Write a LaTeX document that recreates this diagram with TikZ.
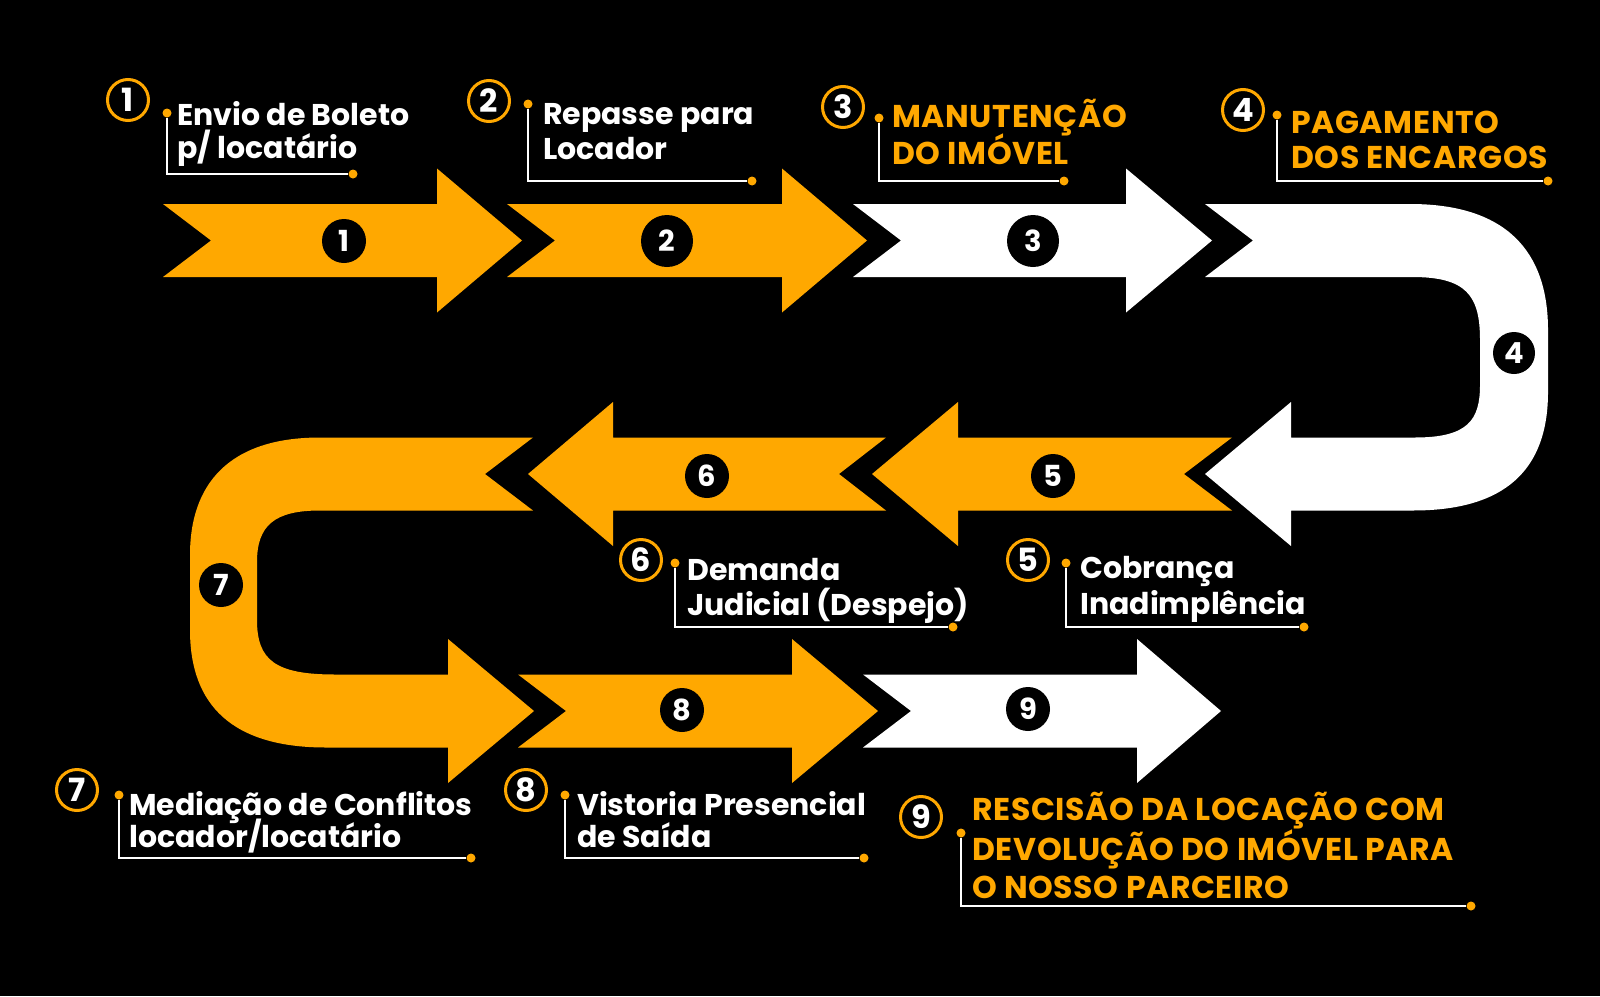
\documentclass[tikz,border=0pt]{standalone}
\usepackage{fontspec}
\setmainfont{Poppins}
\newfontfamily\capsfont{Poppins}[LetterSpace=2]
\definecolor{org}{HTML}{FFA800}
\begin{document}
\begin{tikzpicture}[x=1pt,y=-1pt,
  lw/.style={anchor=base west, inner sep=0pt, text=white, font=\bfseries\fontsize{30}{30}\selectfont},
  lo/.style={anchor=base west, inner sep=0pt, text=org, font=\capsfont\bfseries\fontsize{31.5}{31.5}\selectfont},
  ring/.style={circle, draw=org, line width=3pt, minimum size=41pt, inner sep=0pt, text=white, font=\bfseries\fontsize{32}{32}\selectfont},
  num/.style={circle, fill=black, minimum size=44pt, inner sep=0pt, text=white, font=\bfseries\fontsize{29}{29}\selectfont},
  bignum/.style={num, minimum size=52pt},
  dotn/.style={circle, fill=org, minimum size=9pt, inner sep=0pt},
  leader/.style={draw=white, line width=2.5pt},
  shw/.style={fill=white},
  sho/.style={fill=org}]
\fill[black] (0,0) rectangle (1600,996);
\useasboundingbox (0,0) rectangle (1600,996);

% top row arrows (center y = 240.5)
\fill[sho] (163,204) -- (437,204) -- (437,168.5) -- (522,240.5) -- (437,312.5) -- (437,277) -- (163,277) -- (211,240.5) -- cycle;
\fill[sho] (507,204) -- (782,204) -- (782,168.5) -- (867,240.5) -- (782,312.5) -- (782,277) -- (507,277) -- (555,240.5) -- cycle;
\fill[shw] (853,204) -- (1126,204) -- (1126,168.5) -- (1212,240.5) -- (1126,312.5) -- (1126,277) -- (853,277) -- (901,240.5) -- cycle;
% U-turn 4
\fill[shw] (1205,204) -- (1410,204) .. controls (1505,204) and (1548,250) .. (1548,330)
  -- (1548,392) .. controls (1548,470) and (1505,510.5) .. (1413,510.5)
  -- (1291,510.5) -- (1291,546) -- (1205,474) -- (1291,402) -- (1291,437.5)
  -- (1415,437.5) .. controls (1468,437.5) and (1480,420) .. (1480,385)
  -- (1480,340) .. controls (1480,295) and (1466,277) .. (1412,277)
  -- (1205,277) -- (1253,240.5) -- cycle;
% middle row (center y = 474)
\fill[sho] (1232,437.5) -- (958,437.5) -- (958,402) -- (872,474) -- (958,546) -- (958,510.5) -- (1232,510.5) -- (1184,474) -- cycle;
\fill[sho] (886,437.5) -- (613,437.5) -- (613,402) -- (528,474) -- (613,546) -- (613,510.5) -- (886,510.5) -- (839,474) -- cycle;
% U-turn 7
\fill[sho] (533,437.5) -- (320,437.5) .. controls (228,437.5) and (190,485) .. (190,555)
  -- (190,630) .. controls (190,705) and (232,747.5) .. (326,747.5)
  -- (448,747.5) -- (448,783) -- (534,711) -- (448,639) -- (448,674.5)
  -- (335,674.5) .. controls (275,674.5) and (257,660) .. (257,620)
  -- (257,562) .. controls (257,525) and (275,510.5) .. (320,510.5)
  -- (533,510.5) -- (485,474) -- cycle;
% bottom row (center y = 711)
\fill[sho] (518,674.5) -- (792,674.5) -- (792,639) -- (878,711) -- (792,783) -- (792,747.5) -- (518,747.5) -- (566,711) -- cycle;
\fill[shw] (863,674.5) -- (1137,674.5) -- (1137,639) -- (1221,711) -- (1137,783) -- (1137,747.5) -- (863,747.5) -- (911,711) -- cycle;

% numbers on arrows
\node[num] (n1) at (344,241) {1};
\node[bignum] (n2) at (667,241) {2};
\node[bignum] (n3) at (1033,241) {3};
\node[num, minimum size=42pt] (n4) at (1514,353) {4};
\node[num] (n5) at (1053,476) {5};
\node[num] (n6) at (707,476) {6};
\node[num] (n7) at (221,585) {7};
\node[num] (n8) at (682,710) {8};
\node[num] (n9) at (1028,709) {9};

% rings
\node[ring] (r1) at (128,100) {1};
\node[ring] (r2) at (489,101) {2};
\node[ring] (r3) at (843,107) {3};
\node[ring] (r4) at (1243,110) {4};
\node[ring] (r5) at (1028,560) {5};
\node[ring] (r6) at (641,560) {6};
\node[ring] (r7) at (77,790) {7};
\node[ring] (r8) at (526,790) {8};
\node[ring] (r9) at (921,817) {9};

% leaders
\node[dotn] (d1a) at (167,113) {};  \node[dotn] (d1b) at (353,174) {};
\node[dotn] (d2a) at (528,104) {};  \node[dotn] (d2b) at (752,181) {};
\node[dotn] (d3a) at (879,118) {};  \node[dotn] (d3b) at (1064,181) {};
\node[dotn] (d4a) at (1277,115) {}; \node[dotn] (d4b) at (1548,181) {};
\node[dotn] (d5a) at (1066,563) {}; \node[dotn] (d5b) at (1304,627) {};
\node[dotn] (d6a) at (675,563) {};  \node[dotn] (d6b) at (953,627) {};
\node[dotn] (d7a) at (119,795) {};  \node[dotn] (d7b) at (471,858) {};
\node[dotn] (d8a) at (565,795) {};  \node[dotn] (d8b) at (864,858) {};
\node[dotn] (d9a) at (961,833) {};  \node[dotn] (d9b) at (1471,906) {};
\foreach \i in {1,...,9} {\draw[leader] (d\i a) |- (d\i b);}

% texts
\node[lw] (t1a) at (177,125) {Envio de Boleto};
\node[lw] (t1b) at (177,158) {p/ locatário};
\node[lw] (t2a) at (543,124) {Repasse para};
\node[lw] (t2b) at (543,159) {Locador};
\node[lo] (t3a) at (892,127) {MANUTENÇÃO};
\node[lo] (t3b) at (892,164) {DO IMÓVEL};
\node[lo] (t4a) at (1291,133) {PAGAMENTO};
\node[lo] (t4b) at (1291,168) {DOS ENCARGOS};
\node[lw] (t5a) at (1080,578) {Cobrança};
\node[lw] (t5b) at (1080,614) {Inadimplência};
\node[lw] (t6a) at (687,580) {Demanda};
\node[lw] (t6b) at (687,615) {Judicial (Despejo)};
\node[lw] (t7a) at (129,815) {Mediação de Conflitos};
\node[lw] (t7b) at (129,847) {locador/locatário};
\node[lw] (t8a) at (577,815) {Vistoria Presencial};
\node[lw] (t8b) at (577,847) {de Saída};
\node[lo] (t9a) at (972,820) {RESCISÃO DA LOCAÇÃO COM};
\node[lo] (t9b) at (972,860) {DEVOLUÇÃO DO IMÓVEL PARA};
\node[lo] (t9c) at (972,898) {O NOSSO PARCEIRO};
\end{tikzpicture}
\end{document}
